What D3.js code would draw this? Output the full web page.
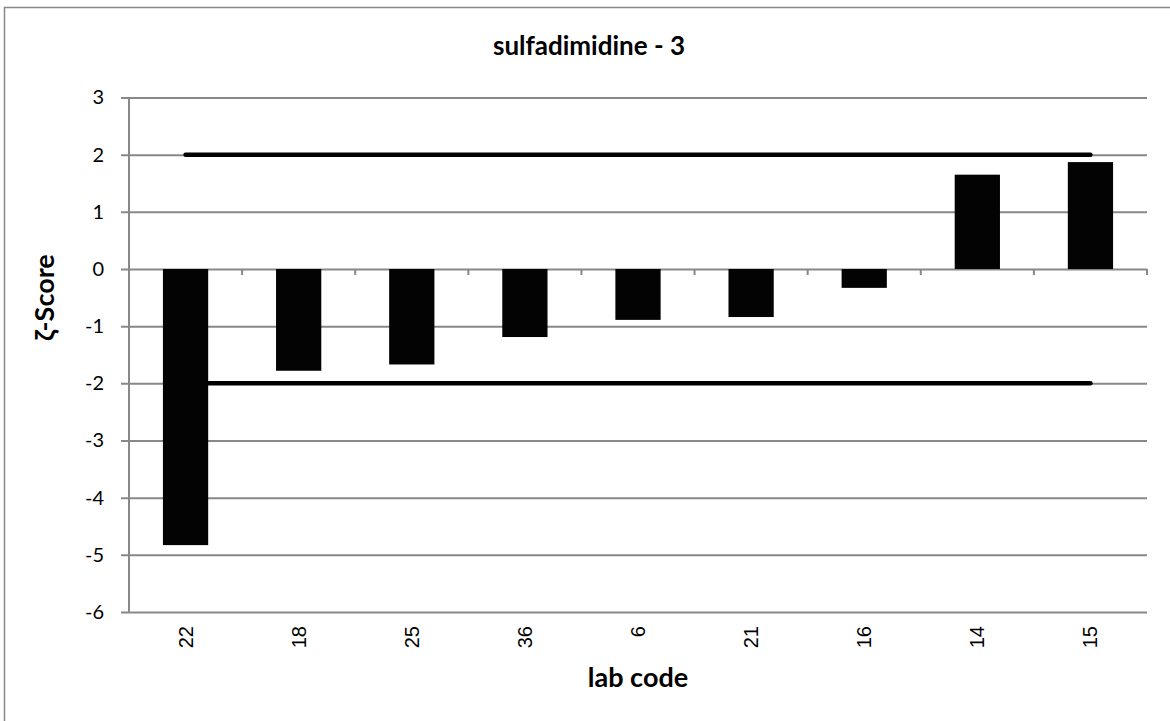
<!DOCTYPE html>
<html>
<head>
<meta charset="utf-8">
<script src="https://cdn.jsdelivr.net/npm/d3@7"></script>
<style>
  body { margin: 0; background: #fff; }
  svg { display: block; }
</style>
</head>
<body>
<svg id="chart" width="1170" height="721"></svg>
<script>
// Chart data
const labCodes = ["22", "18", "25", "36", "6", "21", "16", "14", "15"];
const zScores = [-4.83, -1.78, -1.67, -1.19, -0.89, -0.84, -0.33, 1.65, 1.87];
const limits = [2, -2];
const yTicks = [3, 2, 1, 0, -1, -2, -3, -4, -5, -6];

const svg = d3.select("#chart");
const gridColor = "#888888";
const labelFont = "Lato, 'Open Sans', sans-serif";

// Plot area
const plot = { left: 129, right: 1147, top: 97.5, bottom: 612 };

const x = d3.scaleBand()
    .domain(labCodes)
    .range([plot.left, plot.right])
    .paddingInner(0.6)
    .paddingOuter(0.3);

const xBand = d3.scaleBand()   // full bands, used for tick marks
    .domain(labCodes)
    .range([plot.left, plot.right]);

const y = d3.scaleLinear()
    .domain([-6, 3])
    .range([plot.bottom, plot.top]);

// Outer chart frame (cropped on right and bottom)
svg.append("rect")
    .attr("x", 4.5).attr("y", 7.5)
    .attr("width", 1300).attr("height", 900)
    .attr("fill", "none")
    .attr("stroke", gridColor)
    .attr("stroke-width", 1.5);

// Gridlines + y axis
const yAxis = d3.axisLeft(y)
    .tickValues(yTicks)
    .tickSize(-(plot.right - plot.left))
    .tickPadding(25)
    .tickFormat(d => String(d));   // plain hyphen minus, like the original

const yG = svg.append("g")
    .attr("transform", `translate(${plot.left},0)`)
    .call(yAxis);

yG.select(".domain").remove();
yG.selectAll(".tick line")
    .attr("x1", -8)
    .attr("stroke", gridColor)
    .attr("stroke-width", 2);
yG.selectAll(".tick text")
    .attr("font-family", labelFont)
    .attr("font-size", 20)
    .attr("fill", "#000");

// Y axis line
svg.append("line")
    .attr("x1", plot.left).attr("x2", plot.left)
    .attr("y1", plot.top).attr("y2", plot.bottom)
    .attr("stroke", gridColor)
    .attr("stroke-width", 2);

// Category tick marks on the zero line
svg.append("g")
    .selectAll("line")
    .data(labCodes)
    .join("line")
    .attr("x1", d => xBand(d) + xBand.bandwidth())
    .attr("x2", d => xBand(d) + xBand.bandwidth())
    .attr("y1", y(0))
    .attr("y2", y(0) + 6)
    .attr("stroke", gridColor)
    .attr("stroke-width", 2);

// Limit lines at +2 / -2 (behind the bars)
const first = labCodes[0], last = labCodes[labCodes.length - 1];
svg.append("g")
    .selectAll("line")
    .data(limits)
    .join("line")
    .attr("x1", xBand(first) + xBand.bandwidth() / 2)
    .attr("x2", xBand(last) + xBand.bandwidth() / 2)
    .attr("y1", d => y(d))
    .attr("y2", d => y(d))
    .attr("stroke", "#000")
    .attr("stroke-width", 4.5)
    .attr("stroke-linecap", "round");

// Bars
svg.append("g")
    .selectAll("rect")
    .data(labCodes.map((c, i) => ({ code: c, value: zScores[i] })))
    .join("rect")
    .attr("x", d => x(d.code))
    .attr("width", x.bandwidth())
    .attr("y", d => y(Math.max(0, d.value)))
    .attr("height", d => Math.abs(y(d.value) - y(0)))
    .attr("fill", "#030303");

// X tick labels (rotated)
svg.append("g")
    .selectAll("text")
    .data(labCodes)
    .join("text")
    .attr("transform", d => `translate(${xBand(d) + xBand.bandwidth() / 2},626) rotate(-90)`)
    .attr("dy", "0.35em")
    .attr("text-anchor", "end")
    .attr("font-family", "'Liberation Sans', Arial, sans-serif")
    .attr("font-size", 20)
    .attr("fill", "#000")
    .text(d => d);

// Title
svg.append("text")
    .attr("x", 589).attr("y", 55)
    .attr("text-anchor", "middle")
    .attr("font-family", labelFont)
    .attr("font-weight", "bold")
    .attr("font-size", 26)
    .text("sulfadimidine - 3");

// Axis titles
svg.append("text")
    .attr("x", (plot.left + plot.right) / 2).attr("y", 687)
    .attr("text-anchor", "middle")
    .attr("font-family", labelFont)
    .attr("font-weight", "bold")
    .attr("font-size", 27)
    .text("lab code");

svg.append("text")
    .attr("transform", `translate(54,${y(-0.5)}) rotate(-90)`)
    .attr("text-anchor", "middle")
    .attr("font-family", labelFont)
    .attr("font-weight", "bold")
    .attr("font-size", 27)
    .text("ζ-Score");
</script>
</body>
</html>
